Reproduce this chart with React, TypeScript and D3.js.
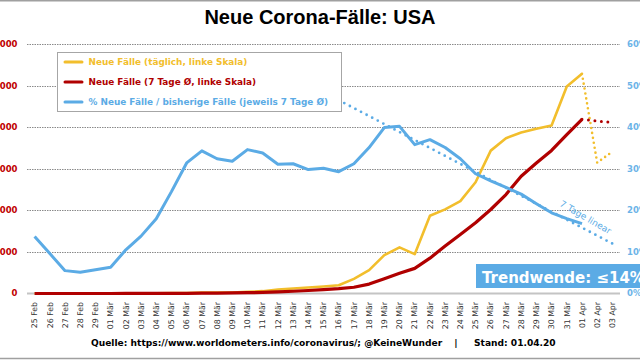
import React from "react";
import * as d3 from "d3";

const dates = [
  "25 Feb", "26 Feb", "27 Feb", "28 Feb", "29 Feb",
  "01 Mär", "02 Mär", "03 Mär", "04 Mär", "05 Mär", "06 Mär", "07 Mär", "08 Mär", "09 Mär", "10 Mär",
  "11 Mär", "12 Mär", "13 Mär", "14 Mär", "15 Mär", "16 Mär", "17 Mär", "18 Mär", "19 Mär", "20 Mär",
  "21 Mär", "22 Mär", "23 Mär", "24 Mär", "25 Mär", "26 Mär", "27 Mär", "28 Mär", "29 Mär", "30 Mär",
  "31 Mär", "01 Apr", "02 Apr", "03 Apr",
];

// daily new cases (left axis), 25 Feb .. 01 Apr
const dailyNew = [
  0, 1, 0, 1, 6, 8, 20, 20, 30, 50, 60, 100, 110, 120, 190, 280, 480, 600, 720, 850,
  1000, 1760, 2810, 4610, 5540, 4730, 9350, 10120, 11100, 13370, 17180, 18670, 19350, 19800, 20190, 24890, 26420,
];
// forecast (dotted) 01 Apr .. 03 Apr
const dailyNewForecast = [26420, 15730, 17060];

// 7-day average (left axis)
const avg7 = [
  0, 0, 0, 0, 1, 2, 5, 8, 11, 17, 25, 40, 56, 70, 94, 130, 190, 270, 360, 460,
  580, 750, 1130, 1780, 2430, 3020, 4250, 5700, 7100, 8500, 10100, 11900, 14100, 15700, 17200, 19100, 20950,
];
const avg7Forecast = [20950, 20750, 20550];

// % new cases / previous cases (right axis, percent)
const pctNew = [
  13.7, 9.6, 5.5, 5.1, 5.7, 6.3, 10.5, 13.8, 18.0, 24.5, 31.4, 34.3, 32.4, 31.8, 34.6, 33.8, 31.1, 31.2, 29.8, 30.1,
  29.3, 31.2, 35.1, 39.9, 40.2, 35.8, 37.0, 35.1, 32.4, 28.8, 27.1, 25.5, 23.9, 21.6, 19.4, 18.0, 16.8,
];
// linear trend ("7 Tage linear"), endpoints
const trendDates = ["16 Mär", "03 Apr"];
const trendValues = [46.5, 12.0];

const leftTicks = [0, 5000, 10000, 15000, 20000, 25000, 30000];
const rightTicks = [0, 10, 20, 30, 40, 50, 60];

const legendItems = [
  { label: "Neue Fälle (täglich, linke Skala)", color: "#F2BE2C" },
  { label: "Neue Fälle (7 Tage Ø, linke Skala)", color: "#B00000" },
  { label: "% Neue Fälle / bisherige Fälle (jeweils 7 Tage Ø)", color: "#5BABE5" },
];

const YELLOW = "#F2BE2C";
const RED = "#B00000";
const BLUE = "#5BABE5";

export default function App() {
  const W = 640, H = 360;
  const x = d3.scaleBand<string>().domain(dates).range([27, 620]);
  const cx = (d: string) => (x(d) as number) + x.bandwidth() / 2;
  const yL = d3.scaleLinear().domain([0, 30000]).range([293.5, 44]);
  const yR = d3.scaleLinear().domain([0, 60]).range([293.5, 44]);
  const de = d3.formatLocale({ decimal: ",", thousands: ".", grouping: [3], currency: ["", "€"] });
  const fmt = de.format(",");

  const lineL = d3.line<[string, number]>().x((d) => cx(d[0])).y((d) => yL(d[1]));
  const lineR = d3.line<[string, number]>().x((d) => cx(d[0])).y((d) => yR(d[1]));

  const yellowPts = dailyNew.map((v, i) => [dates[i], v] as [string, number]);
  const yellowF = dailyNewForecast.map((v, i) => [dates[dailyNew.length - 1 + i], v] as [string, number]);
  const redPts = avg7.map((v, i) => [dates[i], v] as [string, number]);
  const redF = avg7Forecast.map((v, i) => [dates[avg7.length - 1 + i], v] as [string, number]);
  const bluePts = pctNew.map((v, i) => [dates[i], v] as [string, number]);
  const trendPts = trendDates.map((d, i) => [d, trendValues[i]] as [string, number]);

  const x0 = 27, x1 = 620;

  return (
    <div style={{ position: "fixed", left: 0, top: 0, width: W, height: H, background: "#fff" }}>
      <svg width={W} height={H} style={{ display: "block" }} fontFamily="DejaVu Sans">
        <rect x={0} y={0} width={W} height={H} fill="#fff" />
        <line x1={0} x2={W} y1={0.75} y2={0.75} stroke="#a0a0a0" strokeWidth={1.5} />
        <line x1={0} x2={W} y1={358.5} y2={358.5} stroke="#a0a0a0" strokeWidth={1.5} />

        <text x={320} y={24} textAnchor="middle" fontFamily="Liberation Sans" fontWeight="bold" fontSize={20} fill="#000">
          Neue Corona-Fälle: USA
        </text>

        {/* gridlines */}
        {leftTicks.filter((t) => t > 0).map((t) => (
          <line key={t} x1={x0} x2={x1} y1={Math.round(yL(t)) + 0.5} y2={Math.round(yL(t)) + 0.5}
            stroke="#8a8a8a" strokeWidth={1} strokeDasharray="1.5,1" />
        ))}
        <line x1={x0} x2={x1} y1={yL(0)} y2={yL(0)} stroke="#c4c4c4" strokeWidth={2} />

        {/* left axis labels */}
        {leftTicks.map((t) => (
          <text key={t} x={17.5} y={yL(t)} dy="0.35em" textAnchor="end" fontWeight="bold" fontSize={8.5} fill="#C00000">
            {fmt(t)}
          </text>
        ))}
        {/* right axis labels */}
        {rightTicks.map((t) => (
          <text key={t} x={627} y={yR(t)} dy="0.35em" textAnchor="start" fontWeight="bold" fontSize={8.5} fill="#6CB4E8">
            {t + "%"}
          </text>
        ))}

        {/* x labels */}
        {dates.map((d) => (
          <text key={d} transform={`translate(${cx(d)},302) rotate(-90)`} dy="0.35em" textAnchor="end"
            fontSize={7.8} fill="#333">
            {d}
          </text>
        ))}

        {/* series */}
        <path d={lineL(yellowPts) as string} fill="none" stroke={YELLOW} strokeWidth={2.6} strokeLinejoin="round" />
        <path d={lineL(redPts) as string} fill="none" stroke={RED} strokeWidth={3.2} strokeLinejoin="round" />
        <path d={lineR(bluePts) as string} fill="none" stroke={BLUE} strokeWidth={3} strokeLinejoin="round" />
        <path d={lineL(yellowF) as string} fill="none" stroke={YELLOW} strokeWidth={2.6} strokeDasharray="0,5" strokeLinecap="round" />
        <path d={lineL(redF) as string} fill="none" stroke={RED} strokeWidth={3} strokeDasharray="0,6.5" strokeLinecap="round" />
        <path d={lineR(trendPts) as string} fill="none" stroke={BLUE} strokeWidth={2.8} strokeDasharray="0,6.3" strokeLinecap="round" />

        <text transform="translate(584,220) rotate(30)" textAnchor="middle" fontSize={9} fill={BLUE}>
          7 Tage linear
        </text>

        {/* legend */}
        <rect x={57.5} y={52.5} width={284} height={59} fill="#fff" stroke="#a6a6a6" strokeWidth={1} />
        {legendItems.map((it, i) => (
          <g key={it.label} transform={`translate(0,${62 + i * 20})`}>
            <line x1={65} x2={82} y1={0} y2={0} stroke={it.color} strokeWidth={3} strokeLinecap="round" />
            <text x={88.5} y={0} dy="0.35em" fontWeight="bold" fontSize={8.9} fill={it.color}>
              {it.label}
            </text>
          </g>
        ))}

        {/* trend box */}
        <rect x={476} y={264} width={170} height={24} fill="#5BABE5" />
        <text x={482} y={282.5} fontWeight="bold" fontSize={15} fill="#fff">
          Trendwende: ≤14%
        </text>

        {/* footer */}
        <text x={91} y={345.5} fontWeight="bold" fontSize={9.1} fill="#000">
          Quelle: https://www.worldometers.info/coronavirus/; @KeineWunder
        </text>
        <text x={456} y={345.5} textAnchor="middle" fontWeight="bold" fontSize={9.1} fill="#000">|</text>
        <text x={474} y={345.5} fontWeight="bold" fontSize={9.1} fill="#000">Stand: 01.04.20</text>
      </svg>
    </div>
  );
}
